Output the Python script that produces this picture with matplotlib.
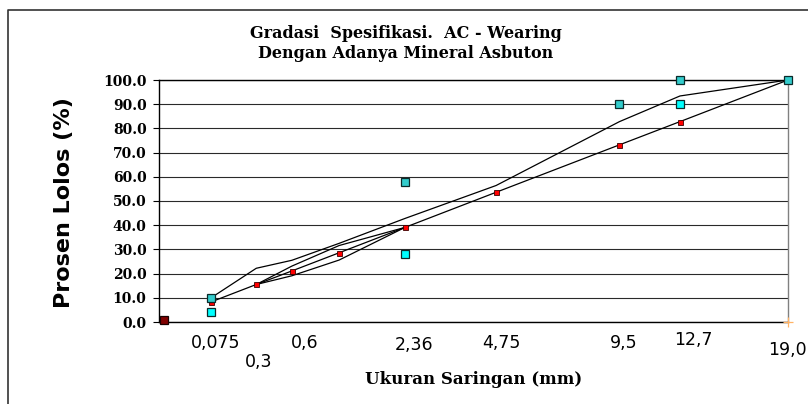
import numpy as np
import matplotlib
matplotlib.use('Agg')
import matplotlib.pyplot as plt
from matplotlib.lines import Line2D

# ---------------- data ----------------
sieve_mm = [0.075, 0.3, 0.6, 1.18, 2.36, 4.75, 9.5, 12.5, 19.0]
max_density = [8.3, 15.5, 21.1, 28.6, 39.1, 53.6, 73.2, 82.8, 100.0]
upper_line = [10.0, 22.2, 25.5, 32.5, 42.8, 56.4, 82.8, 93.4, 100.0]

rz_sieve = [0.3, 0.6, 1.18, 2.36]
rz_upper = [15.5, 23.1, 31.6, 39.1]
rz_lower = [15.5, 19.1, 25.6, 39.1]

cp_upper_sieve = [0.075, 2.36, 9.5, 12.5, 19.0]
cp_upper = [10.0, 58.0, 90.0, 100.0, 100.0]
cp_lower_sieve = [0.075, 2.36, 12.5]
cp_lower = [4.0, 28.0, 90.0]

pan_sieve = [0.0005]
pan_value = [1.0]
end_sieve = [19.0]
end_value = [0.0]

xlabel_values = [0.075, 0.3, 0.6, 2.36, 4.75, 9.5, 12.5, 19.0]
xlabel_texts = ['0,075', '0,3', '0,6', '2,36', '4,75', '9,5', '12,7', '19,0']
ytick_values = [0, 10, 20, 30, 40, 50, 60, 70, 80, 90, 100]

title_lines = ['Gradasi  Spesifikasi.  AC - Wearing', 'Dengan Adanya Mineral Asbuton']
x_title = 'Ukuran Saringan (mm)'
y_title = 'Prosen Lolos (%)'

# ---------------- layout ----------------
W, H = 808, 404
DPI = 100
fig = plt.figure(figsize=(W / DPI, H / DPI), dpi=DPI)
fig.patch.set_facecolor('white')

L, R, T, B = 159, 788, 80, 322
ax = fig.add_axes([L / W, 1 - B / H, (R - L) / W, (B - T) / H])

POW = 0.45
fwd = lambda x: np.power(np.clip(x, 0, None), POW)
inv = lambda y: np.power(np.clip(y, 0, None), 1 / POW)
ax.set_xscale('function', functions=(fwd, inv))
ax.set_xlim(0, 19.0)
ax.set_ylim(0, 100)

# grid
for v in ytick_values:
    ax.axhline(v, color='#2a2a2a', lw=0.8, zorder=1)

lw = 0.9
ax.plot(sieve_mm, upper_line, color='black', lw=lw, zorder=3, clip_on=False)
ax.plot(rz_sieve, rz_upper, color='black', lw=lw, zorder=3)
ax.plot(rz_sieve, rz_lower, color='black', lw=lw, zorder=3)
ax.plot(sieve_mm, max_density, color='black', lw=lw, zorder=3,
        marker='s', markersize=3.6, markerfacecolor='#ff0000',
        markeredgecolor='#3a0000', markeredgewidth=0.6, clip_on=False)

ax.plot(cp_upper_sieve, cp_upper, ls='none', marker='s', markersize=5.6,
        markerfacecolor='#33cccc', markeredgecolor='#0b2a2a',
        markeredgewidth=0.9, zorder=5, clip_on=False)
ax.plot(cp_lower_sieve, cp_lower, ls='none', marker='s', markersize=5.6,
        markerfacecolor='#00ffff', markeredgecolor='#0b2a2a',
        markeredgewidth=0.9, zorder=5, clip_on=False)
ax.plot(pan_sieve, pan_value, ls='none', marker='s', markersize=5.6,
        markerfacecolor='#800000', markeredgecolor='#1a0000',
        markeredgewidth=0.9, zorder=5, clip_on=False)
ax.plot(end_sieve, end_value, ls='none', marker='+', markersize=7,
        markeredgecolor='#ffb366', markeredgewidth=0.9, zorder=5,
        clip_on=False)

# spines
for s in ['left', 'bottom', 'top']:
    ax.spines[s].set_color('black')
    ax.spines[s].set_linewidth(1.0)
ax.spines['right'].set_color('#808080')
ax.spines['right'].set_linewidth(1.0)

ax.set_yticks(ytick_values)
ax.set_yticklabels(['%.1f' % v for v in ytick_values],
                   fontfamily='DejaVu Serif', fontweight='bold', fontsize=10)
ax.tick_params(axis='y', direction='out', length=4, width=0.8, pad=5,
               colors='black')
ax.set_xticks([])
ax.tick_params(axis='x', length=0)

# x labels (positioned like the manually placed labels in the source)
label_offsets = [(5, -21), (2, -40), (13, -21), (9, -23), (5, -21),
                 (4, -21), (13, -18), (-1, -28)]
for v, t, (dx, dy) in zip(xlabel_values, xlabel_texts, label_offsets):
    ax.annotate(t, xy=(v, 0), xycoords='data', xytext=(dx, dy),
                textcoords='offset pixels', ha='center', va='center',
                fontfamily='DejaVu Sans', fontsize=12.5,
                annotation_clip=False)

# titles
fig.text(406 / W, 1 - 33 / H, title_lines[0], ha='center', va='center',
         fontfamily='DejaVu Serif', fontweight='bold', fontsize=11.5)
fig.text(406 / W, 1 - 54 / H, title_lines[1], ha='center', va='center',
         fontfamily='DejaVu Serif', fontweight='bold', fontsize=11.5)
fig.text(474 / W, 1 - 379 / H, x_title, ha='center', va='center',
         fontfamily='DejaVu Serif', fontweight='bold', fontsize=12)
fig.text(64 / W, 1 - 203 / H, y_title, ha='center', va='center',
         rotation=90, fontfamily='DejaVu Sans', fontweight='bold',
         fontsize=16)

# outer chart border (extends past the right/bottom image edge)
fig.add_artist(Line2D([7.5 / W, 7.5 / W, 1.0], [0.0, 1 - 9.5 / H, 1 - 9.5 / H],
                      transform=fig.transFigure, color='#333333', lw=1.2))

fig.savefig('out.png', dpi=DPI)
